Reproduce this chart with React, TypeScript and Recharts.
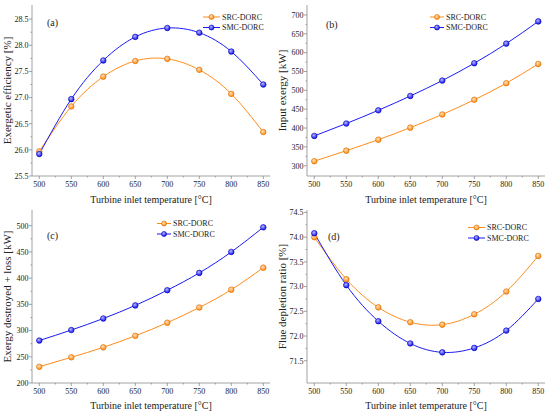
import React from "react"
import { LineChart, Line, XAxis, YAxis, Label } from "recharts"

const TEMPS = [500, 550, 600, 650, 700, 750, 800, 850]
const X_MAJOR = [500, 550, 600, 650, 700, 750, 800, 850]
const X_MINOR = [525, 575, 625, 675, 725, 775, 825]

const EFF_SRC = [25.97, 26.83, 27.4, 27.7, 27.74, 27.53, 27.07, 26.34]
const EFF_SMC = [25.92, 26.97, 27.71, 28.16, 28.33, 28.24, 27.88, 27.25]
const EFF_TICKS = [25.5, 26.0, 26.5, 27.0, 27.5, 28.0, 28.5]

const INPUT_SRC = [312, 340, 369, 401, 436, 475, 519, 570]
const INPUT_SMC = [379, 412, 447, 485, 526, 572, 624, 683]
const INPUT_TICKS = [300, 350, 400, 450, 500, 550, 600, 650, 700]

const DEST_SRC = [231, 249, 268, 290, 315, 344, 378, 420]
const DEST_SMC = [281, 301, 323, 348, 377, 410, 450, 497]
const DEST_TICKS = [200, 250, 300, 350, 400, 450, 500]

const FLUE_SRC = [74.0, 73.15, 72.58, 72.28, 72.23, 72.44, 72.9, 73.62]
const FLUE_SMC = [74.08, 73.03, 72.3, 71.85, 71.67, 71.76, 72.11, 72.75]
const FLUE_TICKS = [71.5, 72.0, 72.5, 73.0, 73.5, 74.0, 74.5]

const SERIES_NAMES = ["SRC-DORC", "SMC-DORC"]
const ORANGE = "#FF8C1A"
const BLUE = "#1A1AF5"
const FRAME = "#8a8a8a"
const FONT = "'Liberation Serif', 'Times New Roman', serif"

const midpoints = (arr: number[]) => arr.slice(0, -1).map((v, i) => (v + arr[i + 1]) / 2)

function Dot(props: any) {
  const { cx, cy, grad, stroke } = props
  if (cx == null || cy == null) return null
  return <circle cx={cx} cy={cy} r={2.8} fill={`url(#${grad})`} stroke={stroke} strokeWidth={0.6} />
}

function XTick({ x, y, payload }: any) {
  const minor = X_MINOR.includes(payload.value)
  return (
    <g>
      <line x1={x} x2={x} y1={y} y2={y + (minor ? 1.5 : 3)} stroke={FRAME} strokeWidth={0.8} />
      {!minor && (
        <text x={x} y={y + 10.5} textAnchor="middle" fontSize={8} fontFamily={FONT} fill="#222">
          {payload.value}
        </text>
      )}
    </g>
  )
}

function makeYTick(major: number[], decimals: number) {
  return ({ x, y, payload }: any) => {
    const isMajor = major.some(m => Math.abs(m - payload.value) < 1e-6)
    return (
      <g>
        <line x1={x} x2={x - (isMajor ? 3 : 1.5)} y1={y} y2={y} stroke={FRAME} strokeWidth={0.8} />
        {isMajor && (
          <text x={x - 3.5} y={y + 2.8} textAnchor="end" fontSize={8} fontFamily={FONT} fill="#222">
            {payload.value.toFixed(decimals)}
          </text>
        )}
      </g>
    )
  }
}

interface PanelProps {
  left: number
  top: number
  src: number[]
  smc: number[]
  yDomain: [number, number]
  yTicks: number[]
  decimals: number
  yLabel: string
  tag: string
  tagPos: [number, number]
  legend: { lineX: number; lineW: number; y: number }
  xAxisHeight: number
}

function Panel(p: PanelProps) {
  const data = TEMPS.map((t, i) => ({ t, src: p.src[i], smc: p.smc[i] }))
  const allY = [...p.yTicks, ...midpoints(p.yTicks)].sort((a, b) => a - b)
  const YTick = makeYTick(p.yTicks, p.decimals)
  return (
    <div style={{ position: "absolute", left: p.left, top: p.top, width: 275, height: 210 }}>
      <LineChart width={275} height={210} data={data} margin={{ top: 5, right: 5, left: 0, bottom: 0 }}>
        <XAxis
          dataKey="t"
          type="number"
          domain={[488.6, 860.5]}
          ticks={[...X_MAJOR, ...X_MINOR].sort((a, b) => a - b)}
          interval={0}
          tick={<XTick />}
          tickSize={0}
          tickMargin={0}
          tickLine={false}
          axisLine={{ stroke: FRAME, strokeWidth: 0.8 }}
          height={p.xAxisHeight}
          allowDataOverflow
        >
          <Label
            value="Turbine inlet temperature [°C]"
            position="center"
            dy={6}
            style={{ fontSize: 10, fontFamily: FONT, fill: "#222" }}
          />
        </XAxis>
        <XAxis xAxisId="top" dataKey="t" type="number" domain={[488.6, 860.5]} orientation="top" height={0}
          tick={false} tickLine={false} axisLine={{ stroke: FRAME, strokeWidth: 0.8 }} />
        <YAxis
          type="number"
          domain={p.yDomain}
          ticks={allY}
          interval={0}
          tick={<YTick />}
          tickSize={0}
          tickMargin={0}
          tickLine={false}
          axisLine={{ stroke: FRAME, strokeWidth: 0.8 }}
          width={32}
          allowDataOverflow
        >
          <Label
            value={p.yLabel}
            angle={-90}
            position="center"
            dx={-9}
            style={{ fontSize: 11, fontFamily: FONT, fill: "#222", textAnchor: "middle" }}
          />
        </YAxis>
        <YAxis yAxisId="right" orientation="right" width={0} domain={p.yDomain} type="number"
          tick={false} tickLine={false} axisLine={{ stroke: FRAME, strokeWidth: 0.8 }} />
        <Line
          dataKey="src"
          type="natural"
          stroke={ORANGE}
          strokeWidth={1}
          dot={<Dot grad="gOrange" stroke="#d96a00" />}
          isAnimationActive={false}
        />
        <Line
          dataKey="smc"
          type="natural"
          stroke={BLUE}
          strokeWidth={1}
          dot={<Dot grad="gBlue" stroke="#0000b0" />}
          isAnimationActive={false}
        />
      </LineChart>
      <svg width={275} height={210} style={{ position: "absolute", left: 0, top: 0, pointerEvents: "none" }}>
        <text x={p.tagPos[0]} y={p.tagPos[1] + 3.5} fontSize={10} fontFamily={FONT} fill="#222">
          {p.tag}
        </text>
        {SERIES_NAMES.map((name, i) => {
          const y = p.legend.y + i * 10.5
          const color = i === 0 ? ORANGE : BLUE
          return (
            <g key={name}>
              <line x1={p.legend.lineX} x2={p.legend.lineX + p.legend.lineW} y1={y} y2={y} stroke={color} strokeWidth={1} />
              <circle cx={p.legend.lineX + p.legend.lineW / 2} cy={y} r={2.5}
                fill={`url(#${i === 0 ? "gOrange" : "gBlue"})`} stroke={i === 0 ? "#d96a00" : "#0000b0"} strokeWidth={0.6} />
              <text x={p.legend.lineX + p.legend.lineW + 2} y={y + 2.8} fontSize={8} fontFamily={FONT} fill="#222">
                {name}
              </text>
            </g>
          )
        })}
      </svg>
    </div>
  )
}

export default function App() {
  return (
    <div style={{ position: "fixed", left: 0, top: 0, width: 550, height: 415, background: "#fff" }}>
      <svg width={0} height={0} style={{ position: "absolute" }}>
        <defs>
          <radialGradient id="gOrange" cx="40%" cy="35%" r="65%">
            <stop offset="0%" stopColor="#ffe2b8" />
            <stop offset="100%" stopColor="#ff8a10" />
          </radialGradient>
          <radialGradient id="gBlue" cx="40%" cy="35%" r="65%">
            <stop offset="0%" stopColor="#b8b8ff" />
            <stop offset="100%" stopColor="#1010f0" />
          </radialGradient>
        </defs>
      </svg>
      <Panel
        left={0} top={0}
        src={EFF_SRC} smc={EFF_SMC}
        yDomain={[25.5, 28.77]} yTicks={EFF_TICKS} decimals={1}
        yLabel="Exergetic efficiency [%]"
        tag="(a)" tagPos={[47, 22]}
        legend={{ lineX: 203, lineW: 17, y: 17 }}
        xAxisHeight={34}
      />
      <Panel
        left={275} top={0}
        src={INPUT_SRC} smc={INPUT_SMC}
        yDomain={[272.7, 726.5]} yTicks={INPUT_TICKS} decimals={0}
        yLabel="Input exergy [kW]"
        tag="(b)" tagPos={[51, 24]}
        legend={{ lineX: 155, lineW: 14, y: 17 }}
        xAxisHeight={34}
      />
      <Panel
        left={0} top={205}
        src={DEST_SRC} smc={DEST_SMC}
        yDomain={[200, 530]} yTicks={DEST_TICKS} decimals={0}
        yLabel="Exergy destroyed + loss [kW]"
        tag="(c)" tagPos={[47, 30.5]}
        legend={{ lineX: 157, lineW: 14, y: 18.5 }}
        xAxisHeight={32}
      />
      <Panel
        left={275} top={205}
        src={FLUE_SRC} smc={FLUE_SMC}
        yDomain={[71.05, 74.55]} yTicks={FLUE_TICKS} decimals={1}
        yLabel="Flue depletion ratio [%]"
        tag="(d)" tagPos={[53, 31.5]}
        legend={{ lineX: 193, lineW: 17, y: 22.5 }}
        xAxisHeight={32}
      />
    </div>
  )
}
